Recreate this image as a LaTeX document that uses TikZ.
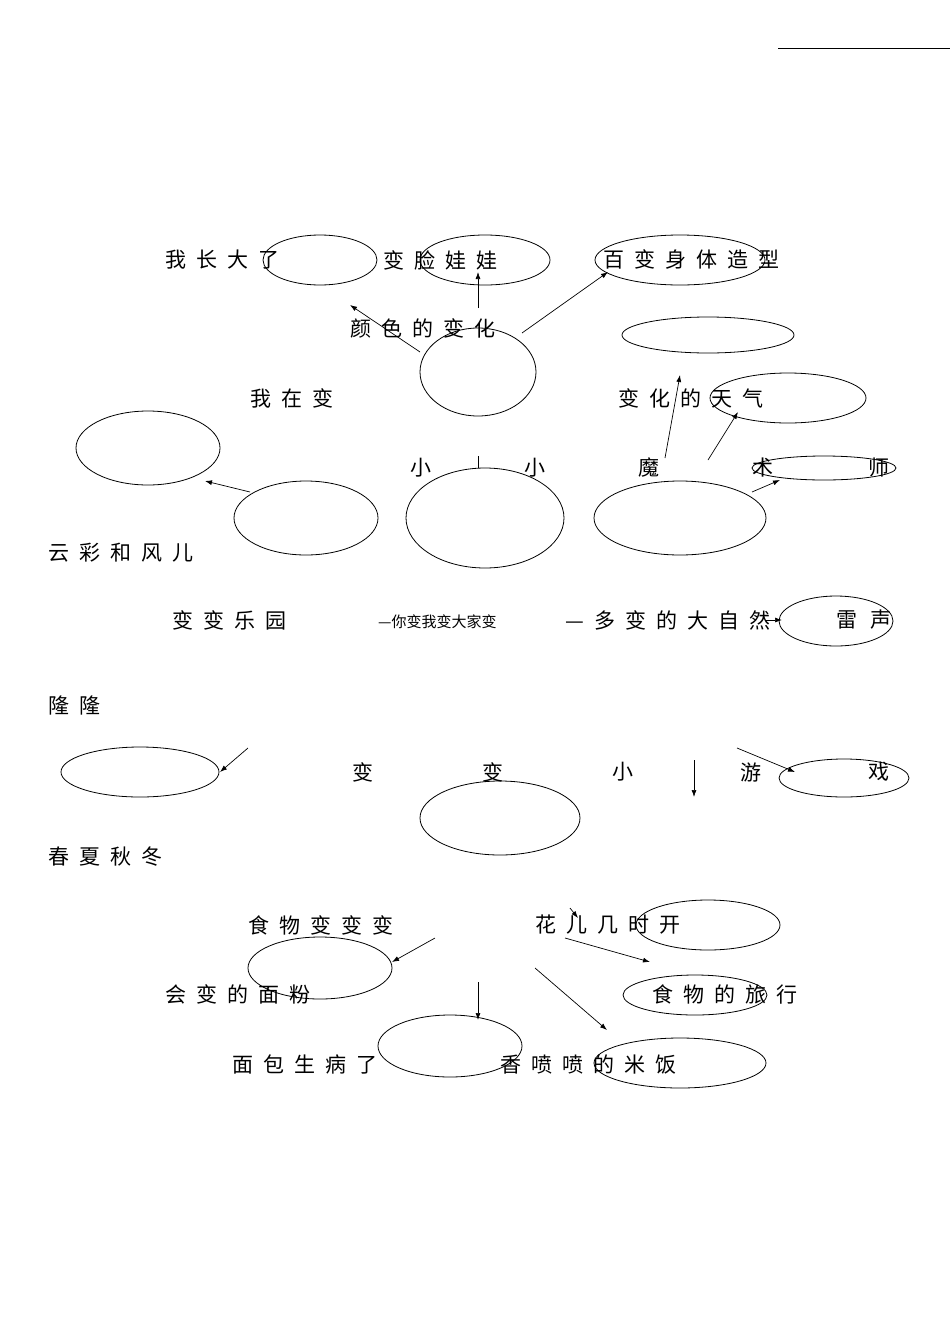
\documentclass[tikz,border=0pt]{standalone}
\usepackage{fontspec}
\newfontfamily\cjk[LetterSpace=48]{Noto Sans CJK SC}
\newfontfamily\cjks{Noto Sans CJK SC}
\usetikzlibrary{arrows.meta}
\begin{document}
\begin{tikzpicture}[x=1pt,y=-1pt,
  ell/.style={draw,line width=0.8pt},
  lab/.style={anchor=west,inner sep=0pt,font=\cjk\fontsize{21}{21}\selectfont},
  arr/.style={-{Latex[length=7pt,width=5pt]},line width=0.7pt}]
\useasboundingbox (0,0) rectangle (950,1344);
\draw[line width=0.8pt] (778,48) -- (950,48);
% ellipses
\foreach \n/\x/\y/\a/\b in {e1/320/260/57/25, e2/485/260/65/25, e3/680/260/85/25, e4/708/335/86/18,
  e5/478/372/58/44, e6/788/398/78/25, e7/148/448/72/37, e8/306/518/72/37, e9/485/518/79/50,
  e10/680/518/86/37, e11/824/468/72/12, e12/836/621/57/25, e13/140/772/79/25, e14/500/818/80/37,
  e15/844/778/65/19, e16/708/925/72/25, e17/320/968/72/31, e18/695/995/72/20, e19/450/1046/72/31,
  e20/680/1063/86/25}
  \draw[ell] (\x,\y) ellipse [x radius=\a, y radius=\b];
% texts
\node[lab] (t1) at (165,260) {我长大了};
\node[lab] (t2) at (383,260) {变脸娃娃};
\node[lab] (t3) at (603,260) {百变身体造型};
\node[lab] (t4) at (350,328) {颜色的变化};
\node[lab] (t5) at (250,398) {我在变};
\node[lab] (t6) at (618,398) {变化的天气};
\node[lab] (m1) at (410,468) {小};
\node[lab] (m2) at (524,468) {小};
\node[lab] (m3) at (638,468) {魔};
\node[lab] (m4) at (752,468) {术};
\node[lab] (m5) at (868,468) {师};
\node[lab] (t7) at (48,553) {云彩和风儿};
\node[lab] (t8) at (172,620) {变变乐园};
\node[anchor=west,inner sep=0pt,font=\cjks\fontsize{15}{15}\selectfont] (t9) at (378,622) {—你变我变大家变};
\node[lab] (t10) at (565,620) {—多变的大自然};
\node[lab] (l1) at (836,620) {雷};
\node[lab] (l2) at (870,620) {声};
\node[lab] (t11) at (48,705) {隆隆};
\node[lab] (g1) at (352,772) {变};
\node[lab] (g2) at (482,772) {变};
\node[lab] (g3) at (612,772) {小};
\node[lab] (g4) at (740,772) {游};
\node[lab] (g5) at (868,772) {戏};
\node[lab] (t12) at (48,857) {春夏秋冬};
\node[lab] (t13) at (248,925) {食物变变变};
\node[lab] (t14) at (535,925) {花儿几时开};
\node[lab] (t15) at (165,994) {会变的面粉};
\node[lab] (t16) at (652,994) {食物的旅行};
\node[lab] (t17) at (232,1064) {面包生病了};
\node[lab] (t18) at (500,1064) {香喷喷的米饭};
% arrows
\coordinate (a1) at (420,352); \coordinate (b1) at (350,305);
\coordinate (a2) at (478,308); \coordinate (b2) at (478,272);
\coordinate (a3) at (522,333); \coordinate (b3) at (608,272);
\coordinate (a4) at (665,458); \coordinate (b4) at (680,375);
\coordinate (a5) at (708,460); \coordinate (b5) at (738,412);
\coordinate (a6) at (250,492); \coordinate (b6) at (205,481);
\coordinate (a7) at (752,492); \coordinate (b7) at (780,480);
\coordinate (a8) at (765,620); \coordinate (b8) at (782,620);
\coordinate (a9) at (248,748); \coordinate (b9) at (220,772);
\coordinate (a10) at (694,760); \coordinate (b10) at (694,797);
\coordinate (a11) at (737,748); \coordinate (b11) at (795,772);
\coordinate (a12) at (435,938); \coordinate (b12) at (392,962);
\coordinate (a13) at (565,938); \coordinate (b13) at (650,962);
\coordinate (a14) at (478,982); \coordinate (b14) at (478,1020);
\coordinate (a15) at (535,968); \coordinate (b15) at (607,1030);
\coordinate (a16) at (570,908); \coordinate (b16) at (578,918);
\foreach \i in {1,...,16} \draw[arr] (a\i) -- (b\i);
\coordinate (c1) at (478,456); \coordinate (c2) at (478,468);
\draw[line width=0.7pt] (c1) -- (c2);
\end{tikzpicture}
\end{document}
